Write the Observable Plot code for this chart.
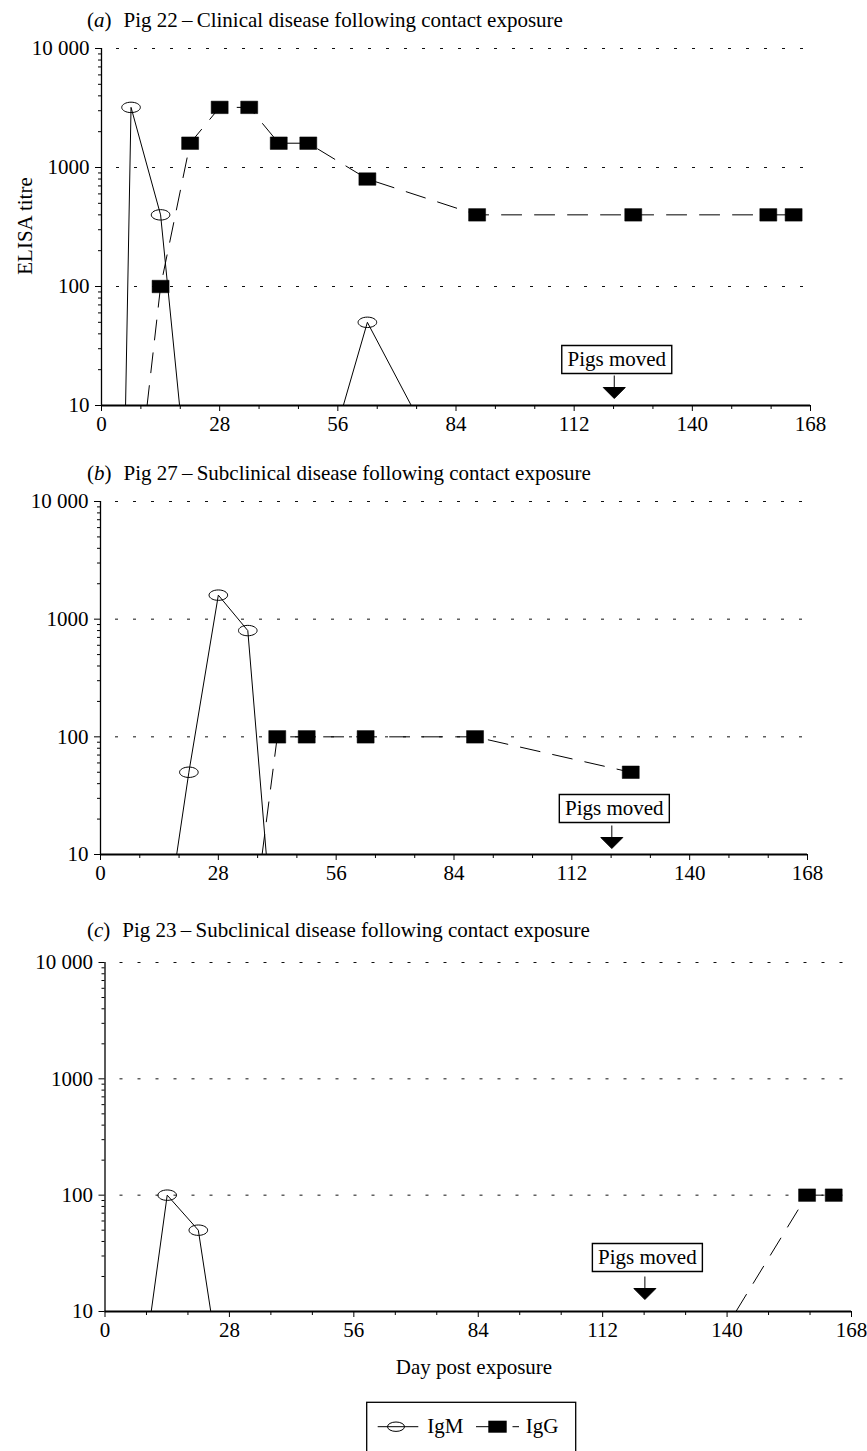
<!DOCTYPE html>
<html>
<head>
<meta charset="utf-8">
<script src="https://cdn.jsdelivr.net/npm/d3@7"></script>
<script src="https://cdn.jsdelivr.net/npm/@observablehq/plot@0.6"></script>
<style>
  html, body { margin: 0; padding: 0; background: #fff; }
  #page { position: relative; width: 867px; height: 1451px; overflow: hidden; background: #fff;
          font-family: "Liberation Serif", "Times New Roman", serif; color: #000; }
  .panel { position: absolute; left: 0; }
  .title { position: absolute; left: 87px; font-size: 21px; line-height: 21px; white-space: nowrap; }
  .title .lab { margin-right: 12px; }
  .lbl { position: absolute; font-size: 21px; line-height: 21px; white-space: nowrap; }
</style>
</head>
<body>
<div id="page"></div>
<script>
// ---------- data ----------
const xTicks = [0, 28, 56, 84, 112, 140, 168];
const xTickLabels = ["0", "28", "56", "84", "112", "140", "168"];
const yTicks = [10, 100, 1000, 10000];
const yTickLabels = ["10", "100", "1000", "10 000"];
const gridTitres = [100, 1000, 10000];

// Pig 22 (a)
const pig22IgMDay   = [5.7, 7, 14, 18.5, 57.3, 63, 73.4];
const pig22IgMTitre = [10, 3200, 400, 10, 10, 50, 10];
const pig22IgGDay   = [10.8, 14, 21, 28, 35, 42, 49, 63, 89, 126, 158, 164];
const pig22IgGTitre = [10, 100, 1600, 3200, 3200, 1600, 1600, 800, 400, 400, 400, 400];
// Pig 27 (b)
const pig27IgMDay   = [18.1, 21, 28, 35, 39.4];
const pig27IgMTitre = [10, 50, 1600, 800, 10];
const pig27IgGDay   = [38.4, 42, 49, 63, 89, 126];
const pig27IgGTitre = [10, 100, 100, 100, 100, 50];
// Pig 23 (c)
const pig23IgMDay   = [10.4, 14, 21, 23.8];
const pig23IgMTitre = [10, 100, 50, 10];
const pig23IgGDay   = [142, 158, 164];
const pig23IgGTitre = [10, 100, 100];

const movedDay = 121.5;
const movedLabel = "Pigs moved";
const detectionLimit = 10;

const titles = [
  ["a", "Pig 22\u2009–\u2009Clinical disease following contact exposure"],
  ["b", "Pig 27\u2009–\u2009Subclinical disease following contact exposure"],
  ["c", "Pig 23\u2009–\u2009Subclinical disease following contact exposure"]
];

// ---------- helpers ----------
const zip = (days, titres) => days.map((day, i) => ({day, titre: titres[i]}));
const xMinor = d3.range(0, 168.01, 28 / 3).filter(v => !xTicks.some(t => Math.abs(t - v) < 0.01));
const yMinor = [10, 100, 1000].flatMap(dec => d3.range(2, 10).map(k => k * dec));

const ellipseSym = { draw(ctx) {
  const rx = 9.3, ry = 5.2, k = 0.5523;
  ctx.moveTo(rx, 0);
  ctx.bezierCurveTo(rx, ry * k, rx * k, ry, 0, ry);
  ctx.bezierCurveTo(-rx * k, ry, -rx, ry * k, -rx, 0);
  ctx.bezierCurveTo(-rx, -ry * k, -rx * k, -ry, 0, -ry);
  ctx.bezierCurveTo(rx * k, -ry, rx, -ry * k, rx, 0);
  ctx.closePath();
}};
const rectSym = (w, h) => ({ draw(ctx) {
  ctx.moveTo(-w / 2, -h / 2); ctx.lineTo(w / 2, -h / 2);
  ctx.lineTo(w / 2, h / 2); ctx.lineTo(-w / 2, h / 2); ctx.closePath();
}});
const arrowSym = { draw(ctx) {
  ctx.moveTo(0, -23); ctx.lineTo(0, -11);
  ctx.moveTo(-11, -11); ctx.lineTo(11, -11); ctx.lineTo(0, 0); ctx.closePath();
}};

const panels = [
  {igm: zip(pig22IgMDay, pig22IgMTitre), igg: zip(pig22IgGDay, pig22IgGTitre),
   top: 0, height: 440, marginTop: 48, marginLeft: 101, marginRight: 57, boxDy: -46, arrowDy: -7, titleTop: 9.5},
  {igm: zip(pig27IgMDay, pig27IgMTitre), igg: zip(pig27IgGDay, pig27IgGTitre),
   top: 460, height: 429, marginTop: 41, marginLeft: 100, marginRight: 60, boxDy: -46, arrowDy: -6, titleTop: 462.5},
  {igm: zip(pig23IgMDay, pig23IgMTitre), igg: zip(pig23IgGDay, pig23IgGTitre),
   top: 920, height: 426, marginTop: 42, marginLeft: 104.5, marginRight: 16, boxDy: -54, arrowDy: -12, titleTop: 919.5}
];

const page = document.getElementById("page");

panels.forEach((p, i) => {
  const chart = Plot.plot({
    width: 867, height: p.height,
    marginTop: p.marginTop, marginBottom: 35, marginLeft: p.marginLeft, marginRight: p.marginRight,
    style: {fontFamily: "'Liberation Serif', 'Times New Roman', serif", fontSize: "21px",
            color: "black", background: "transparent", overflow: "visible"},
    x: {domain: [0, 168], label: null},
    y: {type: "log", domain: [10, 10000], label: null},
    marks: [
      Plot.ruleY(gridTitres, {stroke: "#111", strokeWidth: 1, strokeDasharray: "3,15", strokeDashoffset: 3}),
      Plot.axisY(yMinor, {tickSize: 3, tickFormat: () => "", label: null}),
      Plot.axisY(yTicks, {tickSize: 6, tickPadding: 6, tickFormat: d => yTickLabels[yTicks.indexOf(d)], label: null}),
      Plot.axisX(xMinor, {tickSize: 4, tickFormat: () => "", label: null}),
      Plot.axisX(xTicks, {tickSize: 6, tickPadding: 5, tickFormat: d => xTickLabels[xTicks.indexOf(d)], label: null}),
      Plot.ruleX([0], {stroke: "black", strokeWidth: 1.3}),
      Plot.ruleY([detectionLimit], {stroke: "black", strokeWidth: 1.8}),
      Plot.line(p.igg, {x: "day", y: "titre", stroke: "black", strokeWidth: 1, strokeDasharray: "20,13"}),
      Plot.line(p.igm, {x: "day", y: "titre", stroke: "black", strokeWidth: 1}),
      Plot.dot(p.igg.filter(d => d.titre > detectionLimit),
               {x: "day", y: "titre", symbol: rectSym(17, 12.5), fill: "black", stroke: "black", strokeWidth: 0.5}),
      Plot.dot(p.igm.filter(d => d.titre > detectionLimit),
               {x: "day", y: "titre", symbol: ellipseSym, fill: "none", stroke: "black", strokeWidth: 1}),
      Plot.dot([movedDay], {x: d => d, y: () => detectionLimit, symbol: rectSym(110, 28),
               fill: "white", stroke: "black", strokeWidth: 1.4, dx: 2.5, dy: p.boxDy}),
      Plot.text([movedDay], {x: d => d, y: () => detectionLimit, text: () => movedLabel,
               dx: 2.5, dy: p.boxDy, fill: "black"}),
      Plot.dot([movedDay], {x: d => d, y: () => detectionLimit, symbol: arrowSym,
               fill: "black", stroke: "black", strokeWidth: 1, dy: p.arrowDy})
    ]
  });
  chart.classList.add("panel");
  chart.style.top = p.top + "px";
  chart.style.position = "absolute";
  page.appendChild(chart);

  const t = document.createElement("div");
  t.className = "title";
  t.style.top = p.titleTop + "px";
  t.innerHTML = `<span class="lab">(<i>${titles[i][0]}</i>)</span>${titles[i][1]}`;
  page.appendChild(t);
});

// axis labels
const yl = document.createElement("div");
yl.className = "lbl";
yl.textContent = "ELISA titre";
yl.style.left = "25px"; yl.style.top = "226px";
yl.style.transform = "translate(-50%,-50%) rotate(-90deg)";
page.appendChild(yl);

const xl = document.createElement("div");
xl.className = "lbl";
xl.textContent = "Day post exposure";
xl.style.left = "474px"; xl.style.top = "1356.5px";
xl.style.transform = "translateX(-50%)";
page.appendChild(xl);

// legend
const legendItems = ["IgM", "IgG"];
const lg = d3.select(page).append("svg")
  .attr("width", 240).attr("height", 70)
  .style("position", "absolute").style("left", "355px").style("top", "1395px")
  .style("font-family", "'Liberation Serif', 'Times New Roman', serif").style("font-size", "21px");
lg.append("rect").attr("x", 11.7).attr("y", 7.3).attr("width", 209).attr("height", 60)
  .attr("fill", "white").attr("stroke", "black").attr("stroke-width", 1.3);
const cy = 31.7;
lg.append("line").attr("x1", 22.7).attr("x2", 63.3).attr("y1", cy).attr("y2", cy).attr("stroke", "black");
lg.append("ellipse").attr("cx", 41).attr("cy", cy).attr("rx", 8.5).attr("ry", 4.7)
  .attr("fill", "none").attr("stroke", "black");
lg.append("text").attr("x", 72.3).attr("y", cy + 6.6).text(legendItems[0]);
lg.append("line").attr("x1", 121).attr("x2", 134).attr("y1", cy).attr("y2", cy).attr("stroke", "black");
lg.append("rect").attr("x", 133.3).attr("y", cy - 6).attr("width", 18.4).attr("height", 12).attr("fill", "black");
lg.append("line").attr("x1", 157.5).attr("x2", 164).attr("y1", cy).attr("y2", cy).attr("stroke", "black");
lg.append("text").attr("x", 170.7).attr("y", cy + 6.6).text(legendItems[1]);
</script>
</body>
</html>
